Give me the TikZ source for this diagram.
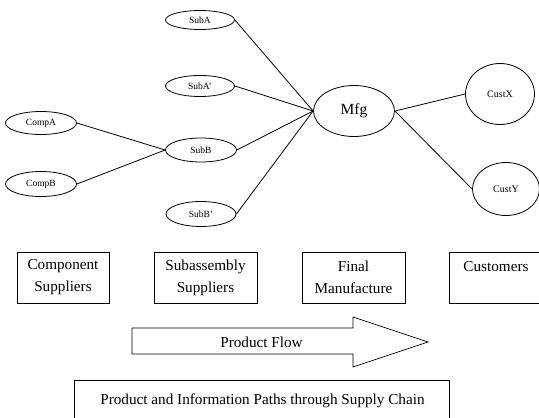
\documentclass[tikz,border=0pt]{standalone}
\usepackage{fontspec}
\setmainfont{Liberation Serif}
\usetikzlibrary{shapes.geometric}
\begin{document}
\begin{tikzpicture}[x=1pt,y=-1pt,
  oval/.style={draw, ellipse, inner sep=0pt, line width=0.8pt, font=\fontsize{9.5}{11}\selectfont},
  link/.style={line width=0.8pt},
  bigtext/.style={font=\fontsize{15.2}{22}\selectfont},
  stagebox/.style={draw, rectangle, line width=0.7pt, inner sep=0pt, align=center, minimum height=51pt, bigtext}]
\clip (0,0) rectangle (539,418);
% ellipses
\node[oval, minimum width=69pt, minimum height=19pt] (subA) at (200,20) {SubA};
\node[oval, minimum width=69pt, minimum height=21pt] (subAp) at (200,86) {SubA'};
\node[oval, minimum width=71pt, minimum height=23pt] (compA) at (41,123) {CompA};
\node[oval, minimum width=71pt, minimum height=24pt] (subB) at (201,150) {SubB};
\node[oval, minimum width=71pt, minimum height=25pt] (compB) at (41,184) {CompB};
\node[oval, minimum width=70pt, minimum height=25pt] (subBp) at (201,214) {SubB'};
\node[oval, minimum width=81pt, minimum height=51pt, font=\fontsize{15.5}{18}\selectfont] (mfg) at (354,111) {Mfg};
\node[oval, minimum width=69pt, minimum height=61pt, font=\fontsize{10}{12}\selectfont] (custX) at (500,94) {CustX};
\node[oval, minimum width=67pt, minimum height=53pt, font=\fontsize{10}{12}\selectfont] (custY) at (506,189) {CustY};
% links
\draw[link] (subA.east) -- (mfg.west);
\draw[link] (subAp.east) -- (mfg.west);
\draw[link] (subB.east) -- (mfg.west);
\draw[link] (subBp.east) -- (mfg.west);
\draw[link] (compA.east) -- (subB.west);
\draw[link] (compB.east) -- (subB.west);
\draw[link] (mfg.east) -- (custX.west);
\draw[link] (mfg.east) -- (custY.west);
% stage boxes
\node[stagebox, minimum width=92pt] (comp) at (63,277.5) {Component\\Suppliers};
\node[stagebox, minimum width=103pt] (subs) at (205.5,277.5) {Subassembly\\Suppliers};
\node[stagebox, minimum width=103pt] (final) at (353.5,277.5) {Final\\Manufacture};
\node[stagebox, minimum width=94pt] (cust) at (496,277.5) {Customers\\\mbox{}};
% product flow arrow
\draw[line width=0.7pt] (132,328) -- (353,328) -- (353,317) -- (428,342) -- (353,367) -- (353,354) -- (132,354) -- cycle;
\node[bigtext] (flow) at (261.5,342) {Product Flow};
% title box
\draw[line width=0.7pt] (74,380) rectangle (449,430);
\node[bigtext] (title) at (262.5,401) {Product and Information Paths through Supply Chain};
\end{tikzpicture}
\end{document}
